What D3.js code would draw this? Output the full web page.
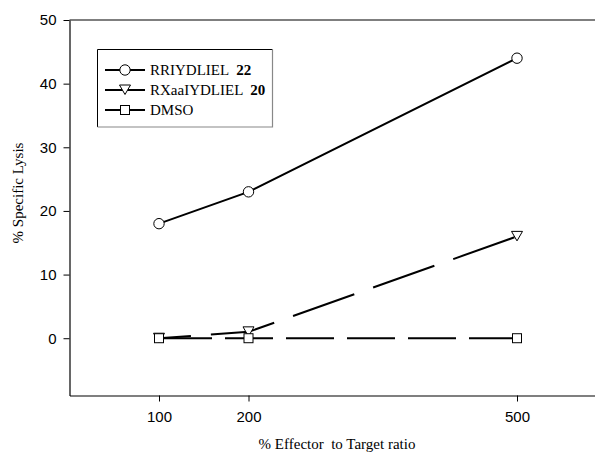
<!DOCTYPE html>
<html><head><meta charset="utf-8">
<script src="https://cdn.jsdelivr.net/npm/d3@7"></script>
<style>body{margin:0;background:#fff}svg{display:block}</style>
</head><body>
<script>
const ratios = [100, 200, 500];
const seriesNames = ["RRIYDLIEL", "RXaaIYDLIEL", "DMSO"];
const seriesTags = ["22", "20", ""];
const rriydliel = [18, 23, 44];
const rxaaiydliel = [0, 1, 16];
const dmso = [0, 0, 0];
const yTicks = [0, 10, 20, 30, 40, 50];
const xTicks = [100, 200, 500];

const W = 595, H = 455;
const svg = d3.select("body").append("svg").attr("width", W).attr("height", H);
const x = d3.scaleLinear().domain([0, 600]).range([69.5, 606.5]);
const y = d3.scaleLinear().domain([-9, 50]).range([395.5, 20]);

const sans = "Liberation Sans, Arial, sans-serif";
const serif = "Liberation Serif, Times New Roman, serif";

// axes
const gy = svg.append("g").attr("transform", "translate(69.5,0)")
  .call(d3.axisLeft(y).tickValues(yTicks).tickSize(6).tickPadding(7).tickSizeOuter(0));
const gx = svg.append("g").attr("transform", "translate(0,395.5)")
  .call(d3.axisBottom(x).tickValues(xTicks).tickSize(6).tickPadding(10).tickSizeOuter(0));
[gy, gx].forEach(g => {
  g.select(".domain").attr("stroke", "#000").attr("stroke-width", 1.2);
  g.selectAll(".tick line").attr("stroke", "#000");
  g.selectAll("text").attr("font-family", sans).attr("font-size", 15).attr("fill", "#000");
});
// top frame line
svg.append("line").attr("x1", 69.5).attr("x2", W).attr("y1", y(50)).attr("y2", y(50))
  .attr("stroke", "#000").attr("stroke-width", 1.2);

// axis titles
svg.append("text").attr("transform", "translate(23,193) rotate(-90)")
  .attr("text-anchor", "middle").attr("font-family", serif).attr("font-size", 15)
  .attr("fill", "#000").text("% Specific Lysis");
svg.append("text").attr("x", 337).attr("y", 449).attr("text-anchor", "middle")
  .attr("font-family", serif).attr("font-size", 15).attr("fill", "#000").style("white-space", "pre")
  .attr("xml:space", "preserve").text("% Effector  to Target ratio");

const line = d3.line().x((d, i) => x(ratios[i])).y(d => y(d));
const series = [
  {vals: rriydliel, dash: null, off: 0, shape: "circle"},
  {vals: rxaaiydliel, dash: "65,20", off: 33, shape: "tri"},
  {vals: dmso, dash: "48,13", off: -5, shape: "square"}
];

function marker(g, shape, cx, cy) {
  if (shape === "circle") {
    g.append("circle").attr("cx", cx).attr("cy", cy).attr("r", 5.2)
      .attr("fill", "#fff").attr("stroke", "#000").attr("stroke-width", 1);
  } else if (shape === "square") {
    g.append("rect").attr("x", cx - 4.5).attr("y", cy - 4.5).attr("width", 9).attr("height", 9)
      .attr("fill", "#fff").attr("stroke", "#000").attr("stroke-width", 1);
  } else {
    g.append("path").attr("d", `M${cx-5.5},${cy-5} L${cx+5.5},${cy-5} L${cx},${cy+4.5} Z`)
      .attr("fill", "#fff").attr("stroke", "#000").attr("stroke-width", 1);
  }
}

series.forEach(s => {
  const p = svg.append("path").attr("d", line(s.vals)).attr("fill", "none")
    .attr("stroke", "#000").attr("stroke-width", 2);
  if (s.dash) p.attr("stroke-dasharray", s.dash).attr("stroke-dashoffset", s.off);
});
series.forEach(s => {
  const g = svg.append("g");
  s.vals.forEach((v, i) => marker(g, s.shape, x(ratios[i]), y(v)));
});

// legend
const lg = svg.append("g");
lg.append("rect").attr("x", 97.5).attr("y", 49.5).attr("width", 175).attr("height", 77.5)
  .attr("fill", "#fff").attr("stroke", "none");
lg.append("path").attr("d", "M97.5,127 V49.5 H272.5").attr("fill", "none").attr("stroke", "#000").attr("stroke-width", 1);
lg.append("path").attr("d", "M272.5,49.5 V127 H97.5").attr("fill", "none").attr("stroke", "#888").attr("stroke-width", 1.2);
const shapes = ["circle", "tri", "square"];
seriesNames.forEach((n, i) => {
  const cy = 70 + i * 20;
  lg.append("line").attr("x1", 105).attr("x2", 145).attr("y1", cy).attr("y2", cy)
    .attr("stroke", "#000").attr("stroke-width", 2);
  marker(lg, shapes[i], 125, cy);
  const t = lg.append("text").attr("x", 150).attr("y", cy + 5)
    .attr("font-family", serif).attr("font-size", 15).attr("fill", "#000");
  t.append("tspan").text(n);
  if (seriesTags[i]) t.append("tspan").attr("dx", 7).attr("font-weight", "bold").text(seriesTags[i]);
});
</script>
</body></html>
